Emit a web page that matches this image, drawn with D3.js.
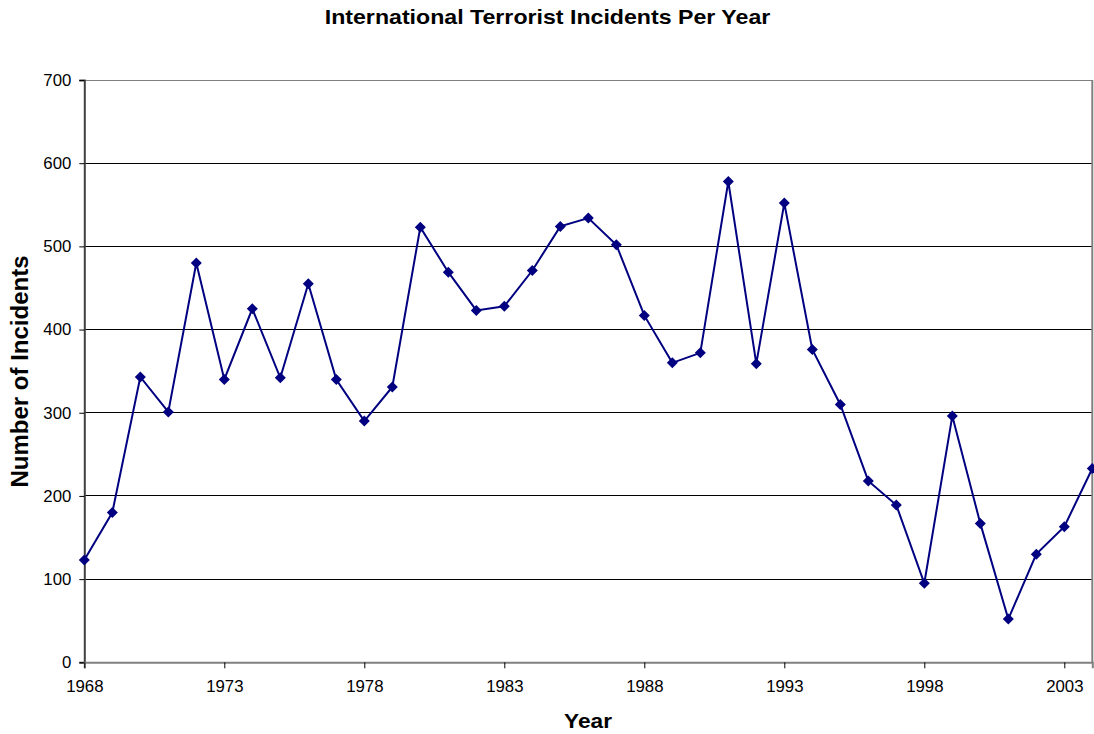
<!DOCTYPE html>
<html><head><meta charset="utf-8">
<script src="https://cdn.jsdelivr.net/npm/d3@7"></script>
<style>
html,body{margin:0;padding:0;background:#fff;}
svg{display:block;font-family:"Liberation Sans",Arial,sans-serif;}
.tick text{font-size:16.8px;font-family:"Liberation Sans",Arial,sans-serif;fill:#000;}
</style></head>
<body>
<script>
const years = d3.range(1968, 2005);
const incidents = [123,180,343,301,480,340,425,342,455,340,290,331,523,469,423,428,471,524,534,502,417,360,372,578,359,552,376,310,218,189,95,296,167,52,130,163,233];
const yTicks = [0,100,200,300,400,500,600,700];
const xTicks = [1968,1973,1978,1983,1988,1993,1998,2003];
const data = years.map((y,i)=>({year:y, value:incidents[i]}));

const W=1094,H=734;
const m={left:84.3,right:1092.3,top:80,bottom:662.3};
const svg=d3.select("body").append("svg").attr("width",W).attr("height",H);

const x=d3.scaleLinear().domain([1968,2004]).range([m.left,m.right]);
const y=d3.scaleLinear().domain([0,700]).range([m.bottom,m.top]);

// gridlines
svg.append("g").selectAll("line").data(yTicks.filter(t=>t>0)).join("line")
  .attr("x1",m.left).attr("x2",m.right).attr("y1",d=>y(d)).attr("y2",d=>y(d))
  .attr("stroke",d=>d===700?"#808080":"#000").attr("stroke-width",1).attr("shape-rendering","crispEdges");
// right border
svg.append("line").attr("x1",m.right).attr("x2",m.right).attr("y1",m.top).attr("y2",m.bottom)
  .attr("stroke","#808080").attr("stroke-width",2);

// y axis
const yAxis=svg.append("g").attr("transform",`translate(${m.left},0)`)
  .call(d3.axisLeft(y).tickValues(yTicks).tickSize(5).tickPadding(8).tickFormat(d3.format("d")));
yAxis.attr("font-size",null).attr("font-family",null);
yAxis.select(".domain").attr("stroke","#404040").attr("stroke-width",2);
yAxis.selectAll(".tick line").attr("stroke","#000");

// x axis
const xAxis=svg.append("g").attr("transform",`translate(0,${m.bottom})`)
  .call(d3.axisBottom(x).tickValues(xTicks).tickSize(6).tickPadding(12).tickFormat(d3.format("d")));
xAxis.attr("font-size",null).attr("font-family",null);
xAxis.select(".domain").attr("stroke","#808080").attr("stroke-width",2);
xAxis.selectAll(".tick line").attr("stroke","#000");

// line
const line=d3.line().x(d=>x(d.year)).y(d=>y(d.value));
svg.append("path").datum(data).attr("d",line).attr("fill","none").attr("stroke","#000080").attr("stroke-width",2);
// markers
svg.append("g").selectAll("path").data(data).join("path")
  .attr("transform",d=>`translate(${x(d.year)},${y(d.value)})`)
  .attr("d","M0,-5.5L5.5,0L0,5.5L-5.5,0Z").attr("fill","#000080");

// titles
svg.append("text").attr("transform","translate(547.5,24) scale(1.13,1)").attr("text-anchor","middle")
  .attr("font-size",20.5).attr("font-weight","bold").text("International Terrorist Incidents Per Year");
svg.append("text").attr("transform","translate(588,727.5) scale(1.08,1)").attr("text-anchor","middle")
  .attr("font-size",21).attr("font-weight","bold").text("Year");
svg.append("text").attr("transform",`translate(28,371.5) rotate(-90)`).attr("text-anchor","middle")
  .attr("font-size",24).attr("font-weight","bold").text("Number of Incidents");
</script>
</body></html>
